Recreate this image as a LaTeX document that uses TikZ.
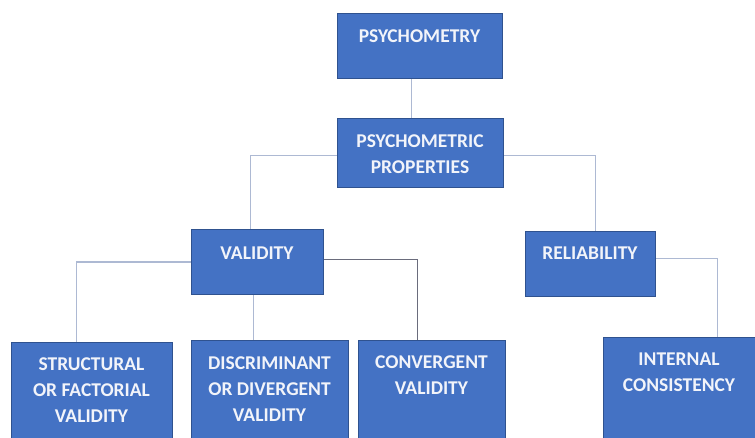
\documentclass[tikz,border=0pt]{standalone}
\usepackage{fontspec}
\setmainfont{Carlito}
\definecolor{boxfill}{HTML}{4472C4}
\definecolor{boxline}{HTML}{2F528F}
\definecolor{conn}{HTML}{ADB9D3}
\definecolor{conndark}{HTML}{6A6C7C}
\definecolor{txtcol}{HTML}{F2F4FA}
\tikzset{
  box/.style={draw=boxline, line width=1.2pt, fill=boxfill, anchor=north west, inner sep=0pt},
  txt/.style={text=txtcol, font=\fontsize{19.5}{26}\selectfont\bfseries, align=center, inner sep=0pt},
  link/.style={draw=conn, line width=1.6pt},
  linkdark/.style={draw=conndark, line width=1.6pt}
}
\begin{document}
\begin{tikzpicture}[x=1pt,y=1pt]
\useasboundingbox (0,0) rectangle (755,-437);
\clip (0,0) rectangle (755,-437);
% boxes
\node[box, minimum width=165, minimum height=65] (psy) at (337,-13) {};
\node[box, minimum width=166, minimum height=69] (pp) at (337,-118) {};
\node[box, minimum width=132, minimum height=65] (val) at (191,-229) {};
\node[box, minimum width=130, minimum height=65] (rel) at (525,-231) {};
\node[box, minimum width=161, minimum height=110] (st) at (11,-342) {};
\node[box, minimum width=157, minimum height=112] (disc) at (191,-340) {};
\node[box, minimum width=147, minimum height=112] (conv) at (358,-340) {};
\node[box, minimum width=160, minimum height=115] (ic) at (603,-337) {};
% texts
\node[txt] (tpsy) at (419.5,-36) {PSYCHOMETRY};
\node[txt] (tpp) at (420,-154) {PSYCHOMETRIC\\PROPERTIES};
\node[txt] (tval) at (257,-253) {VALIDITY};
\node[txt] (trel) at (590,-253) {RELIABILITY};
\node[txt] (tst) at (91.5,-390.5) {STRUCTURAL\\OR FACTORIAL\\VALIDITY};
\node[txt] (tdisc) at (269.5,-389) {DISCRIMINANT\\OR DIVERGENT\\VALIDITY};
\node[txt] (tconv) at (431.5,-375) {CONVERGENT\\VALIDITY};
\node[txt] (tic) at (679,-372.5) {INTERNAL\\CONSISTENCY};
% connectors
\draw[link] ([xshift=-8.5pt]psy.south) -- ([xshift=-8.5pt]psy.south |- pp.north);
\draw[link] ([yshift=-2.5pt]pp.west) -| ([xshift=-7pt]val.north);
\draw[link] ([yshift=-2.5pt]pp.east) -| ([xshift=5pt]rel.north);
\draw[link] (val.west) -| ([xshift=-15.5pt]st.north);
\draw[link] ([xshift=-4pt]val.south) -- ([xshift=-4pt]val.south |- disc.north);
\draw[linkdark] ([yshift=2.5pt]val.east) -| ([xshift=-14.5pt]conv.north);
\draw[link] ([yshift=5.5pt]rel.east) -| ([xshift=34pt]ic.north);
\end{tikzpicture}
\end{document}
